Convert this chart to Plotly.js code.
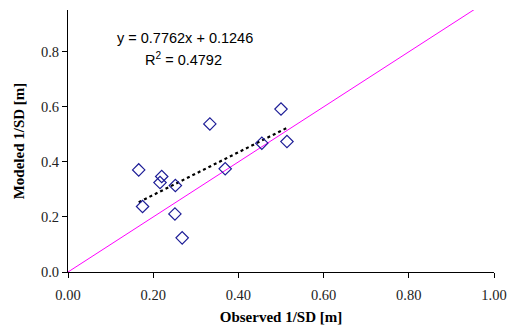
<!DOCTYPE html>
<html>
<head>
<meta charset="utf-8">
<script src="https://cdn.plot.ly/plotly-3.0.1.min.js"></script>
<style>html,body{margin:0;padding:0;background:#fff;}#chart{width:508px;height:331px;}</style>
</head>
<body>
<div id="chart"></div>
<script>
// Observed vs modeled 1/SD [m]
const observed = [0.500, 0.333, 0.514, 0.455, 0.369, 0.166, 0.220, 0.216, 0.252, 0.175, 0.251, 0.268];
const modeled  = [0.592, 0.538, 0.474, 0.468, 0.375, 0.371, 0.347, 0.325, 0.314, 0.238, 0.211, 0.124];
const slope = 0.7762;
const intercept = 0.1246;
const r2 = 0.4792;
const oneToOneX = [0, 0.955];
const xTickVals = [0, 0.2, 0.4, 0.6, 0.8, 1.0];
const yTickVals = [0, 0.2, 0.4, 0.6, 0.8];

const xMin = Math.min(...observed), xMax = Math.max(...observed);
const trendX = [xMin, xMax];
const trendY = trendX.map(x => slope * x + intercept);

const SERIF = 'Liberation Serif';
const SANS = 'Liberation Sans';

const traces = [
  {x: oneToOneX, y: oneToOneX, mode: 'lines', line: {color: '#ff00ff', width: 1}, hoverinfo: 'skip'},
  {x: trendX, y: trendY, mode: 'lines', line: {color: '#000000', width: 2.2, dash: 'dot'}, hoverinfo: 'skip'},
  {x: observed, y: modeled, mode: 'markers',
   marker: {symbol: 'diamond-open', size: 9.5, color: '#1c1c96', line: {width: 1.2, color: '#1c1c96'}}}
];

const layout = {
  width: 508, height: 331,
  margin: {l: 68, r: 13.5, t: 10, b: 59},
  paper_bgcolor: '#ffffff', plot_bgcolor: '#ffffff',
  showlegend: false,
  font: {family: SERIF},
  xaxis: {
    range: [0, 1], tickvals: xTickVals, tickformat: '.2f',
    showgrid: false, zeroline: false, showline: true, linecolor: '#000', linewidth: 1,
    ticks: 'outside', ticklen: 5, tickcolor: '#000', ticklabelstandoff: 5,
    tickfont: {family: SERIF, size: 14.5, color: '#222'},
    title: {text: '<b>Observed 1/SD [m]</b>', standoff: 9,
            font: {family: SERIF, size: 15, color: '#000'}}
  },
  yaxis: {
    range: [0, 0.952], tickvals: yTickVals, tickformat: '.1f',
    showgrid: false, zeroline: false, showline: true, linecolor: '#000', linewidth: 1,
    ticks: 'outside', ticklen: 5, tickcolor: '#000',
    tickfont: {family: SERIF, size: 14.5, color: '#222'},
    title: {text: '<b>Modeled 1/SD [m]</b>', standoff: 12,
            font: {family: SERIF, size: 15, color: '#000'}}
  },
  annotations: [
    {xref: 'x', yref: 'y', x: 0.274, y: 0.852, showarrow: false,
     text: 'y = ' + slope + 'x + ' + intercept,
     font: {family: SANS, size: 14.5, color: '#000'}},
    {xref: 'x', yref: 'y', x: 0.271, y: 0.773, showarrow: false,
     text: 'R<sup>2</sup> = ' + r2,
     font: {family: SANS, size: 14.5, color: '#000'}}
  ]
};

Plotly.newPlot('chart', traces, layout, {displayModeBar: false, staticPlot: true});
</script>
</body>
</html>
